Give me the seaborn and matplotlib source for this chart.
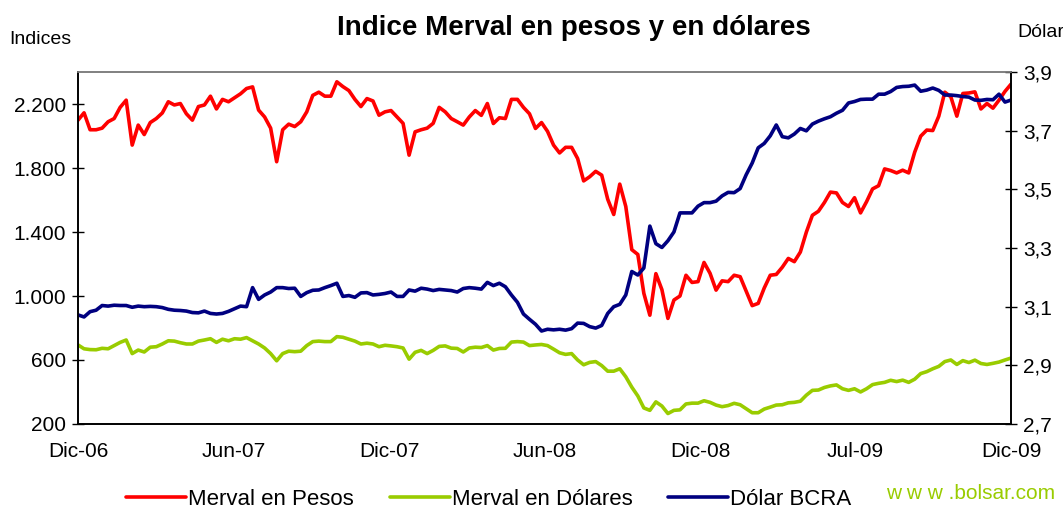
import numpy as np
import pandas as pd
import matplotlib
matplotlib.use("Agg")
import matplotlib.pyplot as plt
import matplotlib.dates as mdates
import seaborn as sns

# valores (aprox. una muestra por semana)
merval_pesos = [2100, 2146, 2040, 2040, 2050, 2090, 2110, 2180, 2225, 1944,
                2069, 2010, 2085, 2110, 2145, 2215, 2195, 2204, 2140, 2100,
                2185, 2195, 2250, 2170, 2230, 2215, 2240, 2265, 2298, 2308,
                2163, 2120, 2050, 1840, 2040, 2075, 2060, 2090, 2152, 2255,
                2275, 2250, 2250, 2340, 2310, 2285, 2230, 2185, 2235, 2220,
                2131, 2152, 2160, 2120, 2080, 1881, 2027, 2040, 2050, 2080,
                2180, 2152, 2110, 2090, 2069, 2120, 2160, 2130, 2204, 2079,
                2115, 2110, 2230, 2230, 2180, 2140, 2048, 2085, 2030, 1944,
                1895, 1930, 1930, 1860, 1720, 1746, 1780, 1756, 1605, 1510,
                1700, 1560, 1290, 1260, 1017, 880, 1140, 1040, 860, 975,
                1000, 1130, 1085, 1090, 1210, 1142, 1037, 1095, 1090, 1130,
                1121, 1030, 940, 954, 1050, 1130, 1135, 1180, 1235, 1215,
                1275, 1400, 1505, 1530, 1585, 1650, 1645, 1585, 1560, 1615,
                1520, 1590, 1670, 1690, 1795, 1785, 1770, 1787, 1770, 1900,
                2000, 2038, 2035, 2125, 2275, 2246, 2125, 2267, 2270, 2277,
                2170, 2204, 2175, 2225, 2280, 2325]

merval_dolares = [694, 670, 665, 664, 673, 670, 690, 710, 725, 640,
                  662, 650, 680, 683, 700, 720, 718, 708, 700, 700,
                  718, 725, 733, 710, 730, 720, 733, 730, 740, 720,
                  700, 675, 640, 595, 640, 655, 652, 655, 690, 715,
                  718, 715, 715, 746, 742, 730, 718, 700, 705, 700,
                  683, 692, 688, 683, 675, 605, 648, 660, 640, 660,
                  685, 688, 674, 672, 650, 675, 680, 678, 690, 662,
                  672, 673, 712, 715, 712, 690, 694, 697, 690, 668,
                  645, 635, 640, 600, 570, 585, 590, 565, 530, 530,
                  545, 495, 430, 375, 300, 285, 338, 312, 265, 285,
                  288, 325, 330, 330, 345, 335, 318, 308, 315, 329,
                  320, 295, 270, 270, 293, 305, 318, 320, 332, 335,
                  342, 380, 410, 412, 428, 438, 444, 420, 410, 420,
                  400, 420, 446, 454, 460, 473, 465, 474, 460, 480,
                  515, 527, 545, 560, 590, 600, 572, 596, 584, 599,
                  578, 572, 579, 587, 600, 612]

dolar_bcra = [3.072, 3.065, 3.083, 3.088, 3.104, 3.102, 3.105, 3.104, 3.104, 3.098,
              3.102, 3.100, 3.101, 3.100, 3.097, 3.091, 3.088, 3.087, 3.085, 3.080,
              3.079, 3.085, 3.077, 3.075, 3.077, 3.084, 3.093, 3.102, 3.100, 3.165,
              3.125, 3.140, 3.150, 3.165, 3.165, 3.162, 3.163, 3.135, 3.148, 3.156,
              3.157, 3.165, 3.172, 3.180, 3.135, 3.138, 3.132, 3.147, 3.148, 3.140,
              3.142, 3.145, 3.150, 3.135, 3.135, 3.157, 3.153, 3.163, 3.160, 3.155,
              3.159, 3.157, 3.155, 3.150, 3.162, 3.165, 3.163, 3.160, 3.183, 3.172,
              3.180, 3.168, 3.140, 3.115, 3.075, 3.057, 3.040, 3.017, 3.023, 3.021,
              3.023, 3.020, 3.025, 3.044, 3.043, 3.032, 3.027, 3.036, 3.077, 3.100,
              3.108, 3.140, 3.220, 3.208, 3.232, 3.375, 3.315, 3.302, 3.325, 3.355,
              3.420, 3.420, 3.420, 3.443, 3.455, 3.455, 3.460, 3.478, 3.490, 3.489,
              3.503, 3.550, 3.590, 3.642, 3.657, 3.683, 3.720, 3.680, 3.676, 3.689,
              3.708, 3.700, 3.723, 3.733, 3.741, 3.748, 3.760, 3.770, 3.795, 3.800,
              3.807, 3.808, 3.808, 3.825, 3.825, 3.834, 3.848, 3.851, 3.852, 3.856,
              3.835, 3.839, 3.846, 3.838, 3.822, 3.822, 3.820, 3.817, 3.815, 3.805,
              3.804, 3.807, 3.806, 3.825, 3.798, 3.805]

x_labels = ["Dic-06", "Jun-07", "Dic-07", "Jun-08", "Dic-08", "Jul-09", "Dic-09"]
left_ticks = [200, 600, 1000, 1400, 1800, 2200]
right_ticks = [2.7, 2.9, 3.1, 3.3, 3.5, 3.7, 3.9]

start, end = pd.Timestamp("2006-12-01"), pd.Timestamp("2009-12-01")
fechas = pd.date_range(start, end, periods=len(merval_pesos))

sns.set_style("white")
plt.rcParams["font.family"] = ["Liberation Sans", "DejaVu Sans"]
plt.rcParams["text.color"] = "black"
plt.rcParams["xtick.color"] = "black"
plt.rcParams["ytick.color"] = "black"

fig = plt.figure(figsize=(10.63, 5.12), dpi=100)
ax = fig.add_axes([0.0734, 0.172, 0.8777, 0.687])
ax2 = ax.twinx()

RED, GREEN, NAVY = "#ff0000", "#99cc00", "#000080"
sns.lineplot(x=fechas, y=merval_pesos, ax=ax, color=RED, lw=2.6, label="Merval en Pesos", legend=False)
sns.lineplot(x=fechas, y=merval_dolares, ax=ax, color=GREEN, lw=2.6, label="Merval en Dólares", legend=False)
sns.lineplot(x=fechas, y=dolar_bcra, ax=ax2, color=NAVY, lw=2.6, label="Dólar BCRA", legend=False)

x0, x1 = mdates.date2num(start), mdates.date2num(end)
ax.set_xlim(x0, x1)
ax.set_ylim(200, 2400)
ax2.set_ylim(2.7, 3.9)

ax.set_yticks(left_ticks)
ax.set_yticklabels([f"{v:,}".replace(",", ".") for v in left_ticks])
ax2.set_yticks(right_ticks)
ax2.set_yticklabels([f"{v:.1f}".replace(".", ",") for v in right_ticks])

# etiquetas cada 1/6 del eje, marcas cada ~0.115 del eje (eje de categorias de Excel)
ax.set_xticks(np.linspace(x0, x1, len(x_labels)))
ax.set_xticklabels(x_labels)
ax.set_xticks(x0 + np.arange(9) * (x1 - x0) * 0.11535, minor=True)
ax.tick_params(axis="x", which="major", length=0, labelsize=15, pad=13)
ax.tick_params(axis="x", which="minor", length=10, width=1, direction="inout", color="black")
ax.tick_params(axis="y", length=9, width=1, direction="inout", labelsize=15, pad=4, color="black")
ax2.tick_params(axis="y", length=9, width=1, direction="inout", labelsize=15, pad=4, color="black")
ax.set_xlabel("")
ax.set_ylabel("")
ax2.set_ylabel("")

for a in (ax, ax2):
    for s in ("left", "right", "bottom"):
        a.spines[s].set_color("black")
        a.spines[s].set_linewidth(1.2)
    a.spines["top"].set_color("#808080")
    a.spines["top"].set_linewidth(1.2)

fig.text(0.540, 0.946, "Indice Merval en pesos y en dólares", ha="center", va="center",
         fontsize=20, fontweight="bold")
fig.text(0.009, 0.923, "Indices", ha="left", va="center", fontsize=14)
fig.text(0.957, 0.936, "Dólar", ha="left", va="center", fontsize=14)
fig.text(0.993, 0.037, "w w w .bolsar.com", ha="right", va="center", fontsize=15, color=GREEN)

h1, l1 = ax.get_legend_handles_labels()
h2, l2 = ax2.get_legend_handles_labels()
fig.legend(h1 + h2, l1 + l2, loc="center", bbox_to_anchor=(0.46, 0.024), ncol=3,
           frameon=False, fontsize=16, handlelength=2.7, handletextpad=0.1,
           columnspacing=1.6, borderpad=0, borderaxespad=0)

fig.savefig("out.png", dpi=100)
